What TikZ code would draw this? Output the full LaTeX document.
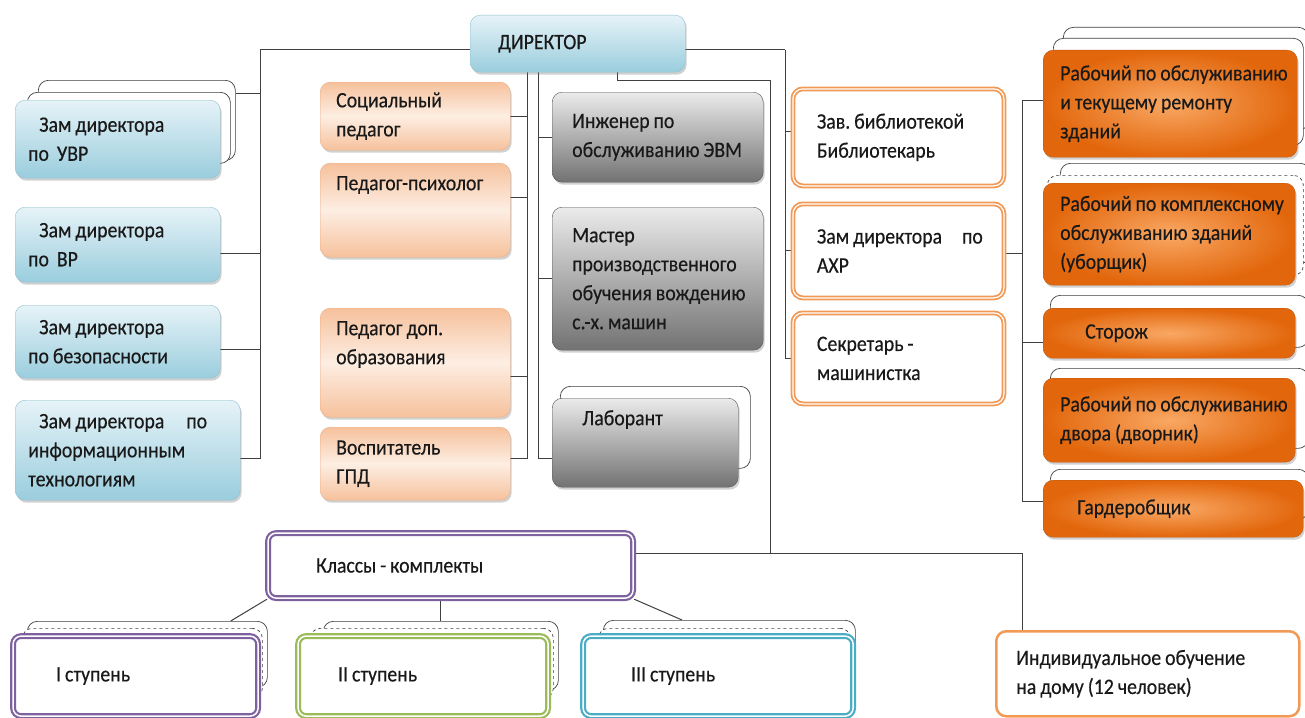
\documentclass[tikz,border=0pt]{standalone}
\usepackage{fontspec}
\setmainfont{Carlito}[FakeStretch=0.9, FakeBold=0.35]
\usetikzlibrary{positioning,shadows,backgrounds}

\definecolor{blueTop}{HTML}{E6F3F8}
\definecolor{blueBot}{HTML}{9ACDDD}
\definecolor{blueLine}{HTML}{8FC0CF}
\definecolor{peachA}{HTML}{F6C19C}
\definecolor{peachB}{HTML}{FDEEE3}
\definecolor{peachLine}{HTML}{EFAE84}
\definecolor{grayTop}{HTML}{EBEBEB}
\definecolor{grayBot}{HTML}{727272}
\definecolor{grayLine}{HTML}{555555}
\definecolor{workIn}{HTML}{F9A864}
\definecolor{workOut}{HTML}{E2660B}
\definecolor{workLine}{HTML}{C0580F}
\definecolor{ringOrange}{HTML}{F29A55}
\definecolor{ringPurple}{HTML}{7E62A0}
\definecolor{ringGreen}{HTML}{9BBB59}
\definecolor{ringTeal}{HTML}{4BACC6}
\definecolor{wireGray}{HTML}{404040}

\tikzset{
  box/.style={rectangle, rounded corners=10pt, anchor=north west, align=left,
    inner ysep=4pt, font=\fontsize{22}{29}\selectfont, text=black!90,
    execute at begin node={\spaceskip=0.18em\relax}},
  shade/.style={drop shadow={shadow xshift=1.5pt, shadow yshift=-2.5pt, opacity=.3, fill=black!60}},
  bluebox/.style={box, shade, draw=blueLine, top color=blueTop, bottom color=blueBot, inner xsep=13pt},
  peachbox/.style={box, shade, draw=peachLine, top color=peachA, bottom color=peachA, middle color=peachB, inner xsep=16pt},
  graybox/.style={box, shade, draw=grayLine, top color=grayTop, bottom color=grayBot, inner xsep=20pt},
  ringbox/.style={box, draw=ringOrange, double=white, double distance=1.2pt, line width=1.8pt, fill=white, inner xsep=24pt},
  workbox/.style={box, shade, draw=workLine, inner color=workIn, outer color=workOut, inner xsep=17pt},
  card/.style={box, draw=wireGray, fill=white, line width=0.7pt},
  dashcard/.style={card, dashed},
  stagebox/.style={box, rounded corners=8pt, double=white, double distance=1.5pt, line width=2.2pt, fill=white, inner xsep=20pt},
  homebox/.style={box, draw=ringOrange, line width=2.5pt, fill=white, inner xsep=20pt},
  wire/.style={draw=wireGray, line width=1pt}
}

\begin{document}
\begin{tikzpicture}[x=1pt, y=-1pt]
  \useasboundingbox (0,0) rectangle (1305,717);

  % Director
  \node[bluebox, inner xsep=28pt, text width=159pt, minimum height=57pt] (dir) at (470,15) {ДИРЕКТОР};

  % Deputies (left column)
  \node[card, minimum width=197pt, minimum height=80pt] (uvrb) at (38,80) {};
  \node[card, minimum width=203pt, minimum height=71pt] (uvrm) at (27,92) {};
  \node[bluebox, text width=179pt, minimum height=78pt] (uvr) at (15,100) {\hspace{11pt}Зам~директора\\по~~УВР};
  \node[bluebox, text width=179pt, minimum height=75pt] (vr) at (15,207) {\hspace{11pt}Зам~директора\\по~~ВР};
  \node[bluebox, text width=179pt, minimum height=73pt] (bez) at (15,305) {\hspace{11pt}Зам~директора\\по~безопасности};
  \node[bluebox, text width=199pt, minimum height=100pt] (info) at (15,400) {\hspace{11pt}Зам~директора\kern 22pt по\\информационным\\технологиям};

  % Pedagogues
  \node[peachbox, text width=158pt, minimum height=68pt] (soc) at (320,82) {Социальный\\педагог};
  \node[peachbox, text width=158pt, minimum height=94pt, text height=23pt, text depth=63pt] (psy) at (320,163) {Педагог-психолог};
  \node[peachbox, text width=158pt, minimum height=109pt, text height=23pt, text depth=78pt] (dop) at (320,308) {Педагог~доп.\\образования};
  \node[peachbox, text width=158pt, minimum height=73pt] (vos) at (320,427) {Воспитатель\\ГПД};

  % Technical staff
  \node[graybox, text width=171pt, minimum height=90pt] (ing) at (552,92) {Инженер~по\\обслуживанию~ЭВМ};
  \node[graybox, text width=171pt, minimum height=143pt] (mas) at (552,207) {Мастер\\производственного\\обучения~вождению\\с.-х.~машин};
  \node[card, minimum width=190pt, minimum height=82pt] (labb) at (560,386) {};
  \node[graybox, text width=146pt, minimum height=89pt, text height=23pt, text depth=58pt] (lab) at (552,398) {\hspace{10pt}Лаборант};

  % Library, AXR, secretary
  \node[ringbox, text width=163pt, minimum height=97pt] (zav) at (792,88) {Зав.~библиотекой\\Библиотекарь};
  \node[ringbox, text width=163pt, minimum height=94pt] (axr) at (792,203) {Зам~директора\kern 20pt по\\АХР};
  \node[ringbox, text width=163pt, minimum height=91pt] (sek) at (792,312) {Секретарь~-\\машинистка};

  % Workers
  \node[card, minimum width=245pt, minimum height=103pt] (r1b) at (1063,27) {};
  \node[card, minimum width=250pt, minimum height=107pt] (r1m) at (1053,38) {};
  \node[workbox, text width=220pt, minimum height=107pt] (r1) at (1043,50) {Рабочий~по~обслуживанию\\и~текущему~ремонту\\зданий};
  \node[card, minimum width=250pt, minimum height=100pt] (r2b) at (1060,163) {};
  \node[dashcard, minimum width=256pt, minimum height=100pt] (r2d) at (1047,175) {};
  \node[workbox, text width=218pt, minimum height=102pt] (r2) at (1043,183) {Рабочий~по~комплексному\\обслуживанию~зданий\\(уборщик)};
  \node[card, minimum width=258pt, minimum height=52pt] (storb) at (1050,295) {};
  \node[workbox, text width=218pt, minimum height=50pt] (stor) at (1043,308) {\hspace{25pt}Сторож};
  \node[card, minimum width=258pt, minimum height=80pt] (dvorb) at (1050,368) {};
  \node[workbox, text width=218pt, minimum height=84pt] (dvor) at (1043,378) {Рабочий~по~обслуживанию\\двора~(дворник)};
  \node[card, minimum width=258pt, minimum height=50pt] (gardb) at (1050,469) {};
  \node[workbox, text width=226pt, minimum height=57pt] (gard) at (1043,480) {\hspace{17pt}Гардеробщик};

  % Classes
  \node[stagebox, draw=ringPurple, text width=325pt, minimum height=65pt] (klass) at (267,532) {\hspace{28pt}Классы~-~комплекты};
  \node[card, minimum width=240pt, minimum height=66pt] (st1b) at (27,621) {};
  \node[dashcard, minimum width=240pt, minimum height=70pt] (st1d) at (22,628) {};
  \node[stagebox, draw=ringPurple, text width=205pt, minimum height=80pt] (st1) at (12,635) {\hspace{23pt}I ступень};
  \node[card, minimum width=235pt, minimum height=69pt] (st2b) at (323,621) {};
  \node[dashcard, minimum width=243pt, minimum height=70pt] (st2d) at (310,628) {};
  \node[stagebox, draw=ringGreen, text width=210pt, minimum height=80pt] (st2) at (297,635) {\hspace{20pt}II ступень};
  \node[card, minimum width=252pt, minimum height=65pt] (st3b) at (603,620) {};
  \node[dashcard, minimum width=252pt, minimum height=70pt] (st3d) at (598,628) {};
  \node[stagebox, draw=ringTeal, text width=230pt, minimum height=80pt] (st3) at (582,635) {\hspace{28pt}III ступень};

  % Home schooling
  \node[homebox, text width=263pt, minimum height=85pt] (ind) at (995,630) {Индивидуальное~обучение\\на~дому~(12~человек)};

  % Connectors
  \begin{scope}[on background layer]
    \coordinate (lt) at (260,50);
    \draw[wire] (dir.west |- lt) -- (lt);
    \draw[wire] ([yshift=27pt]uvrb.east) -| (lt);
    \draw[wire] ([yshift=-9pt]vr.east) -| (lt);
    \draw[wire] ([yshift=-8pt]bez.east) -| (lt);
    \draw[wire] ([yshift=-8pt]info.east) -| (lt);

    \coordinate (ptop) at (527,72);
    \draw[wire] (soc.east) -| (ptop);
    \draw[wire] ([yshift=13pt]psy.east) -| (ptop);
    \draw[wire] ([yshift=-14pt]dop.east) -| (ptop);
    \draw[wire] ([yshift=5pt]vos.east) -| (ptop);

    \coordinate (gtop) at (538,72);
    \draw[wire] (ing.west) -| (gtop);
    \draw[wire] (mas.west) -| (gtop);
    \draw[wire] ([yshift=-16pt]lab.west) -| (gtop);

    \coordinate (rt) at (785,50);
    \draw[wire] (dir.east |- rt) -- (rt);
    \draw[wire] ([yshift=6pt]zav.west) -| (rt);
    \draw[wire] (axr.west) -| (rt);
    \draw[wire] (sek.west) -| (rt);

    \coordinate (cl) at (770,80);
    \draw[wire] ([xshift=40pt]dir.south) |- (cl);
    \draw[wire] ([yshift=12pt]klass.east) -| (cl);
    \draw[wire] ([yshift=12pt]klass.east) -| ([xshift=27pt]ind.north west);

    \coordinate (ot) at (1022,100);
    \draw[wire] (r1.west |- ot) -- (ot);
    \draw[wire] ([yshift=-3pt]axr.east) -| (ot);
    \draw[wire] ([yshift=-9pt]stor.west) -| (ot);
    \draw[wire] ([yshift=7pt]gard.west) -| (ot);

    \draw[wire] (klass.south west) -- ([xshift=-37pt]st1b.north east);
    \draw[wire] (st2b.north) -- (st2b.north |- klass.south);
    \draw[wire] (klass.south east) -- ([xshift=79pt]st3b.north west);
  \end{scope}
\end{tikzpicture}
\end{document}
